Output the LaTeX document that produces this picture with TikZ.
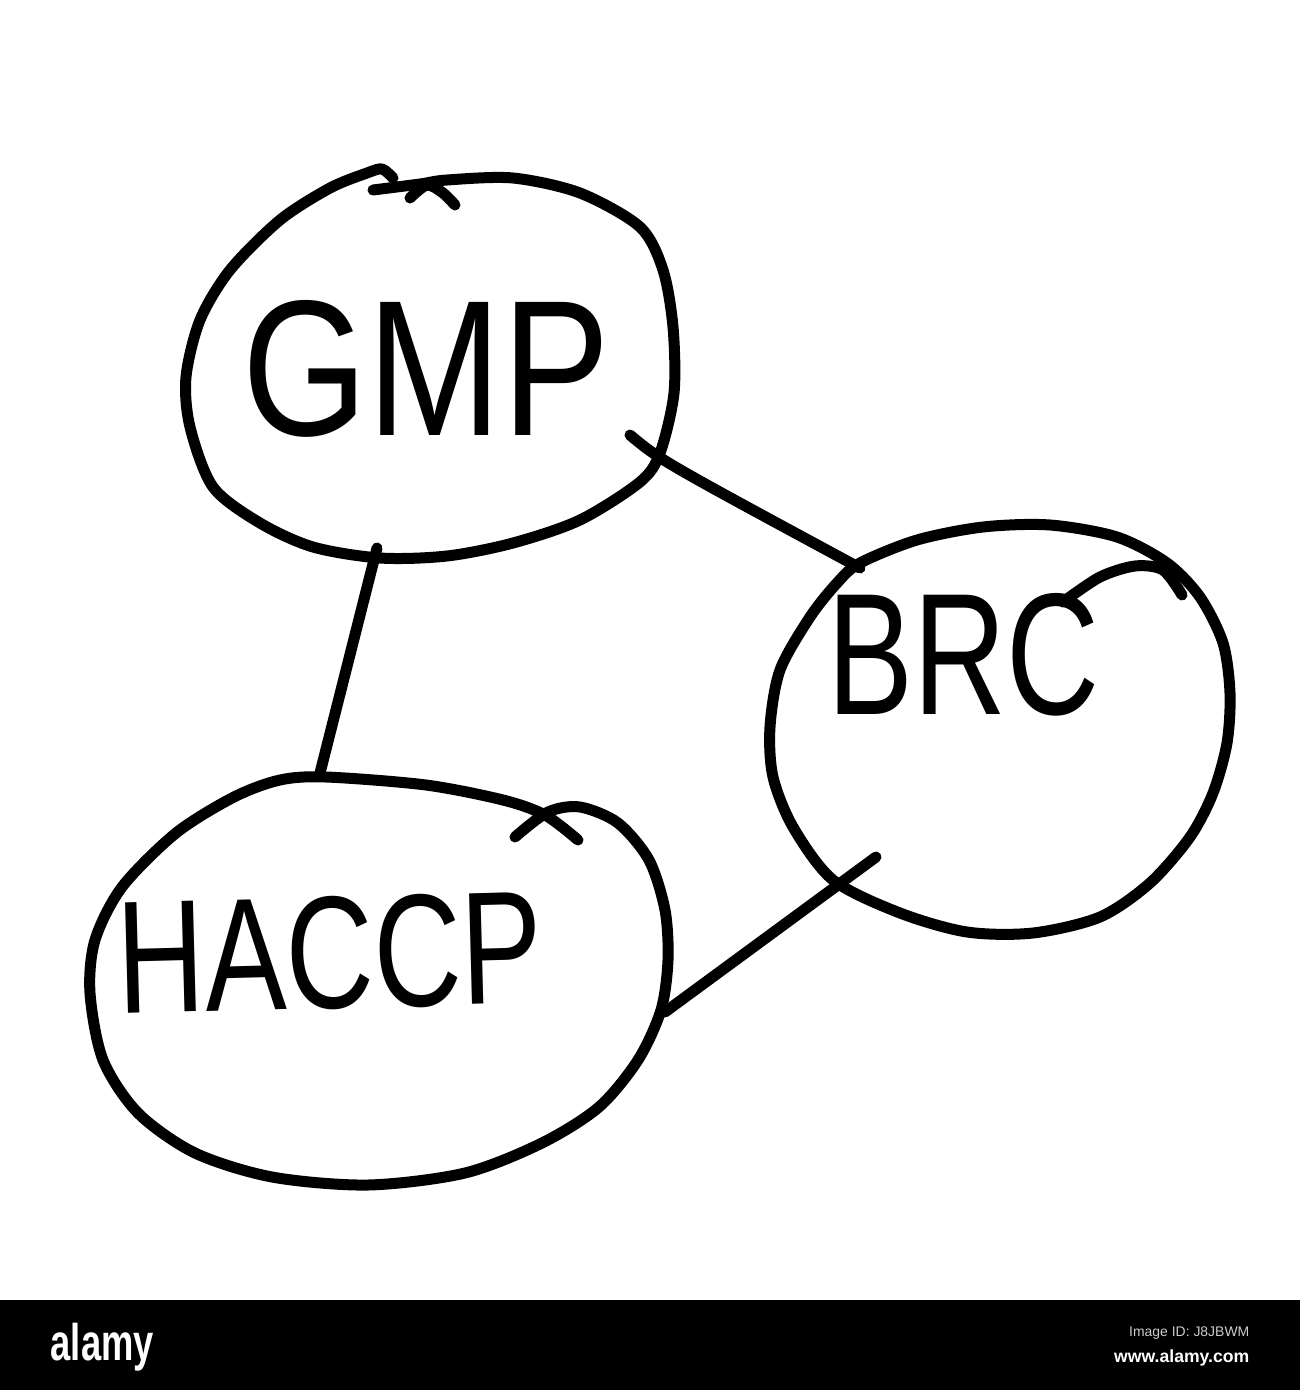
\documentclass[tikz,border=0pt]{standalone}
\usepackage{fontspec}
\setmainfont{Liberation Sans}
\usetikzlibrary{calc,shapes.geometric}
\begin{document}
\begin{tikzpicture}[x=0.01cm,y=-0.01cm,
  penline/.style={line width=0.11cm, line cap=round, line join=round, draw=black},
  blob/.style={ellipse, draw=none, inner sep=0},
  txt/.style={inner sep=0, outer sep=0, text=black}]
\fill[white] (0,0) rectangle (1300,1300);
\fill[black] (0,1300) rectangle (1300,1390);
\useasboundingbox (0,0) rectangle (1300,1390);

% named nodes (blob regions)
\node[blob, minimum width=4.9cm, minimum height=3.9cm] (gmp) at (429,368) {};
\node[blob, minimum width=4.6cm, minimum height=4.1cm] (brc) at (1000,732) {};
\node[blob, minimum width=5.8cm, minimum height=4.1cm] (haccp) at (378,981) {};

% hand-drawn outlines
\draw[penline] plot[smooth] coordinates {(373,190) (420,184) (447,180) (513,178) (580,193) (640,227) (663,270) (673,327) (674,393) (660,453) (640,482) (580,520) (513,543) (447,556) (380,558) (313,547) (260,523) (213,487) (190,427) (186,377) (200,320) (230,270) (280,220) (330,188) (367,173) (382,169) (393,178)};
\draw[penline] plot[smooth] coordinates {(410,198) (427,185) (443,193) (455,205)};

\draw[penline] plot[smooth cycle] coordinates {(860,563) (917,540) (983,527) (1050,525) (1117,537) (1167,563) (1200,597) (1223,643) (1230,693) (1227,743) (1213,793) (1190,837) (1150,883) (1100,917) (1033,933) (967,932) (900,913) (833,880) (793,827) (773,777) (770,727) (780,670) (810,617) (837,583)};
\draw[penline] plot[smooth] coordinates {(1063,602) (1100,577) (1135,566) (1163,570) (1182,595)};

\draw[penline] plot[smooth] coordinates {(515,837) (548,812) (580,807) (618,823) (649,860) (665,910) (668,960) (661,1010) (638,1060) (599,1107) (542,1143) (465,1173) (368,1185) (272,1177) (195,1153) (138,1113) (103,1060) (90,993) (95,940) (122,887) (176,833) (234,797) (280,780) (326,777) (426,785) (503,800) (545,815) (578,840)};

% labels
\node[txt] (gmptext) at (426,369) {\resizebox{3.67cm}{1.35cm}{GMP}};
\node[txt] (brctext) at (964,655) {\resizebox{2.72cm}{1.21cm}{BRC}};
\node[txt, rotate=1.5] (hacctext) at (330,953) {\resizebox{4.25cm}{1.12cm}{HACCP}};

% connectors
\draw[penline] ($(gmp.center)+(201,67)$) .. controls ($(gmp.center)+(231,92)$) .. ($(brc.center)+(-140,-164)$);
\draw[penline] ($(gmp.center)+(-52,180)$) -- ($(haccp.center)+(-58,-208)$);
\draw[penline] ($(brc.center)+(-124,125)$) -- ($(haccp.center)+(287,31)$);

% bottom bar texts
\node[anchor=north west, inner sep=0, text=white] (logo) at (50,1322) {\resizebox*{1.03cm}{0.48cm}{\bfseries alamy}};
\node[anchor=north east, inner sep=0, text=black!20] (imgid) at (1250,1326) {\resizebox{1.2cm}{!}{Image ID: J8JBWM}};
\node[anchor=north east, inner sep=0, text=white] (www) at (1250,1349) {\resizebox{1.35cm}{!}{\bfseries www.alamy.com}};
\end{tikzpicture}
\end{document}
